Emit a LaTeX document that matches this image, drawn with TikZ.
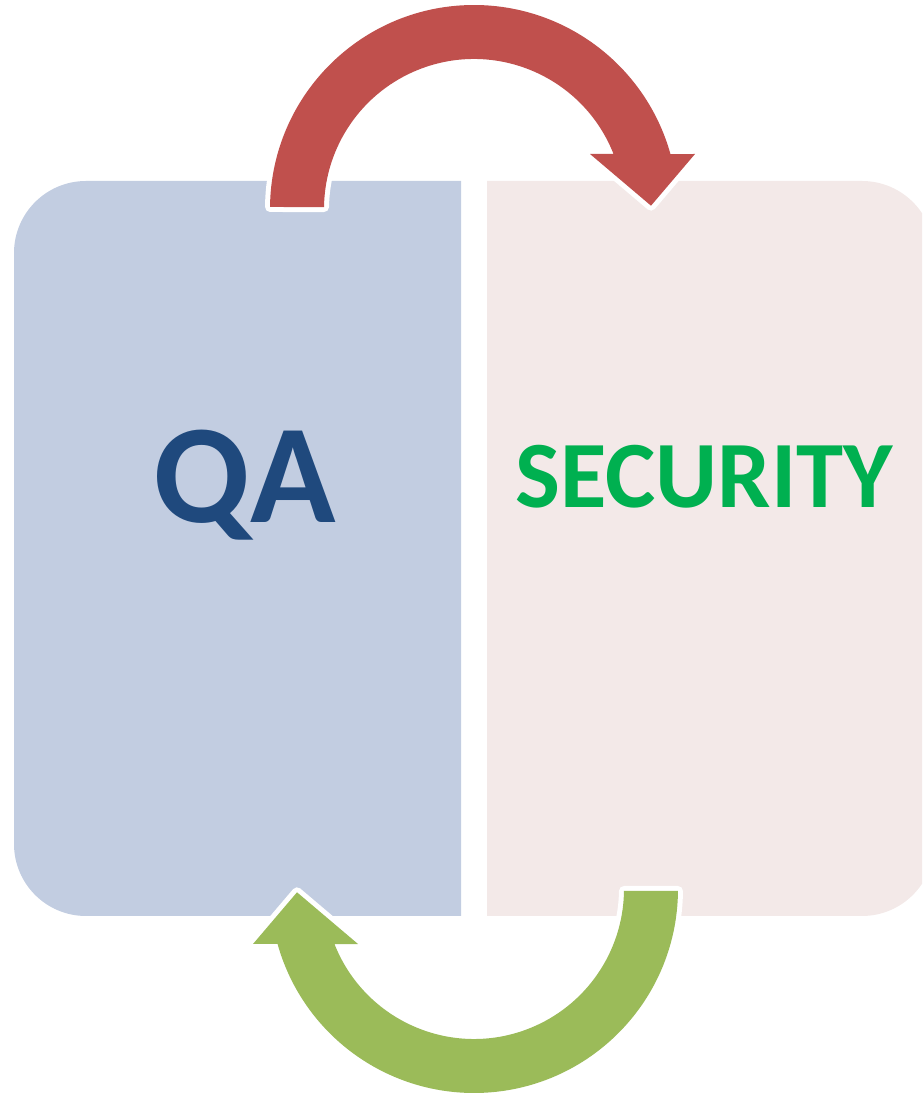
\documentclass[tikz,border=0pt]{standalone}
\usepackage{fontspec}
\setmainfont{Carlito}
\definecolor{qafill}{HTML}{C2CDE1}
\definecolor{secfill}{HTML}{F3E9E8}
\definecolor{arrowred}{HTML}{C0504D}
\definecolor{arrowgreen}{HTML}{9BBB59}
\definecolor{qatext}{HTML}{1F497D}
\definecolor{sectext}{HTML}{00B050}
\tikzset{
  x=1pt,y=1pt,
  panel/.style={draw=none},
  label text/.style={font=\bfseries,inner sep=0pt,anchor=base},
  blockarrow/.pic={
    \path[pic actions,line width=10pt,line join=round,draw=white]
      (179.44:204pt) arc[start angle=179.44,end angle=15.6,radius=204pt]
      -- (221,55) -- (177,3.3) -- (116,55) -- (21.6:150pt)
      arc[start angle=21.6,end angle=179.24,radius=150pt] -- cycle;
    \path[pic actions,draw=none]
      (179.44:204pt) arc[start angle=179.44,end angle=15.6,radius=204pt]
      -- (221,55) -- (177,3.3) -- (116,55) -- (21.6:150pt)
      arc[start angle=21.6,end angle=179.24,radius=150pt] -- cycle;
  }
}
\begin{document}
\begin{tikzpicture}
\useasboundingbox (0,0) rectangle (922,1093);
\begin{scope}
\clip (0,0) rectangle (922,1093);
\fill[qafill,panel] (461,912) -- (86,912) arc[start angle=90,end angle=180,radius=72pt]
  -- (14,249) arc[start angle=180,end angle=270,radius=72pt] -- (461,177) -- cycle;
\fill[secfill,panel] (487,912) -- (862,912) arc[start angle=90,end angle=0,radius=72pt]
  -- (934,249) arc[start angle=0,end angle=-90,radius=72pt] -- (487,177) -- cycle;
\pic[fill=arrowred] at (474,884) {blockarrow};
\pic[fill=arrowgreen,rotate=180] at (474,204) {blockarrow};
\node[label text,text=qatext] (qa) at (245,570) {\fontsize{141}{141}\selectfont QA};
\node[label text,text=sectext] (security) at (704,585) {\fontsize{95}{95}\selectfont SECURITY};
\end{scope}
\end{tikzpicture}
\end{document}
